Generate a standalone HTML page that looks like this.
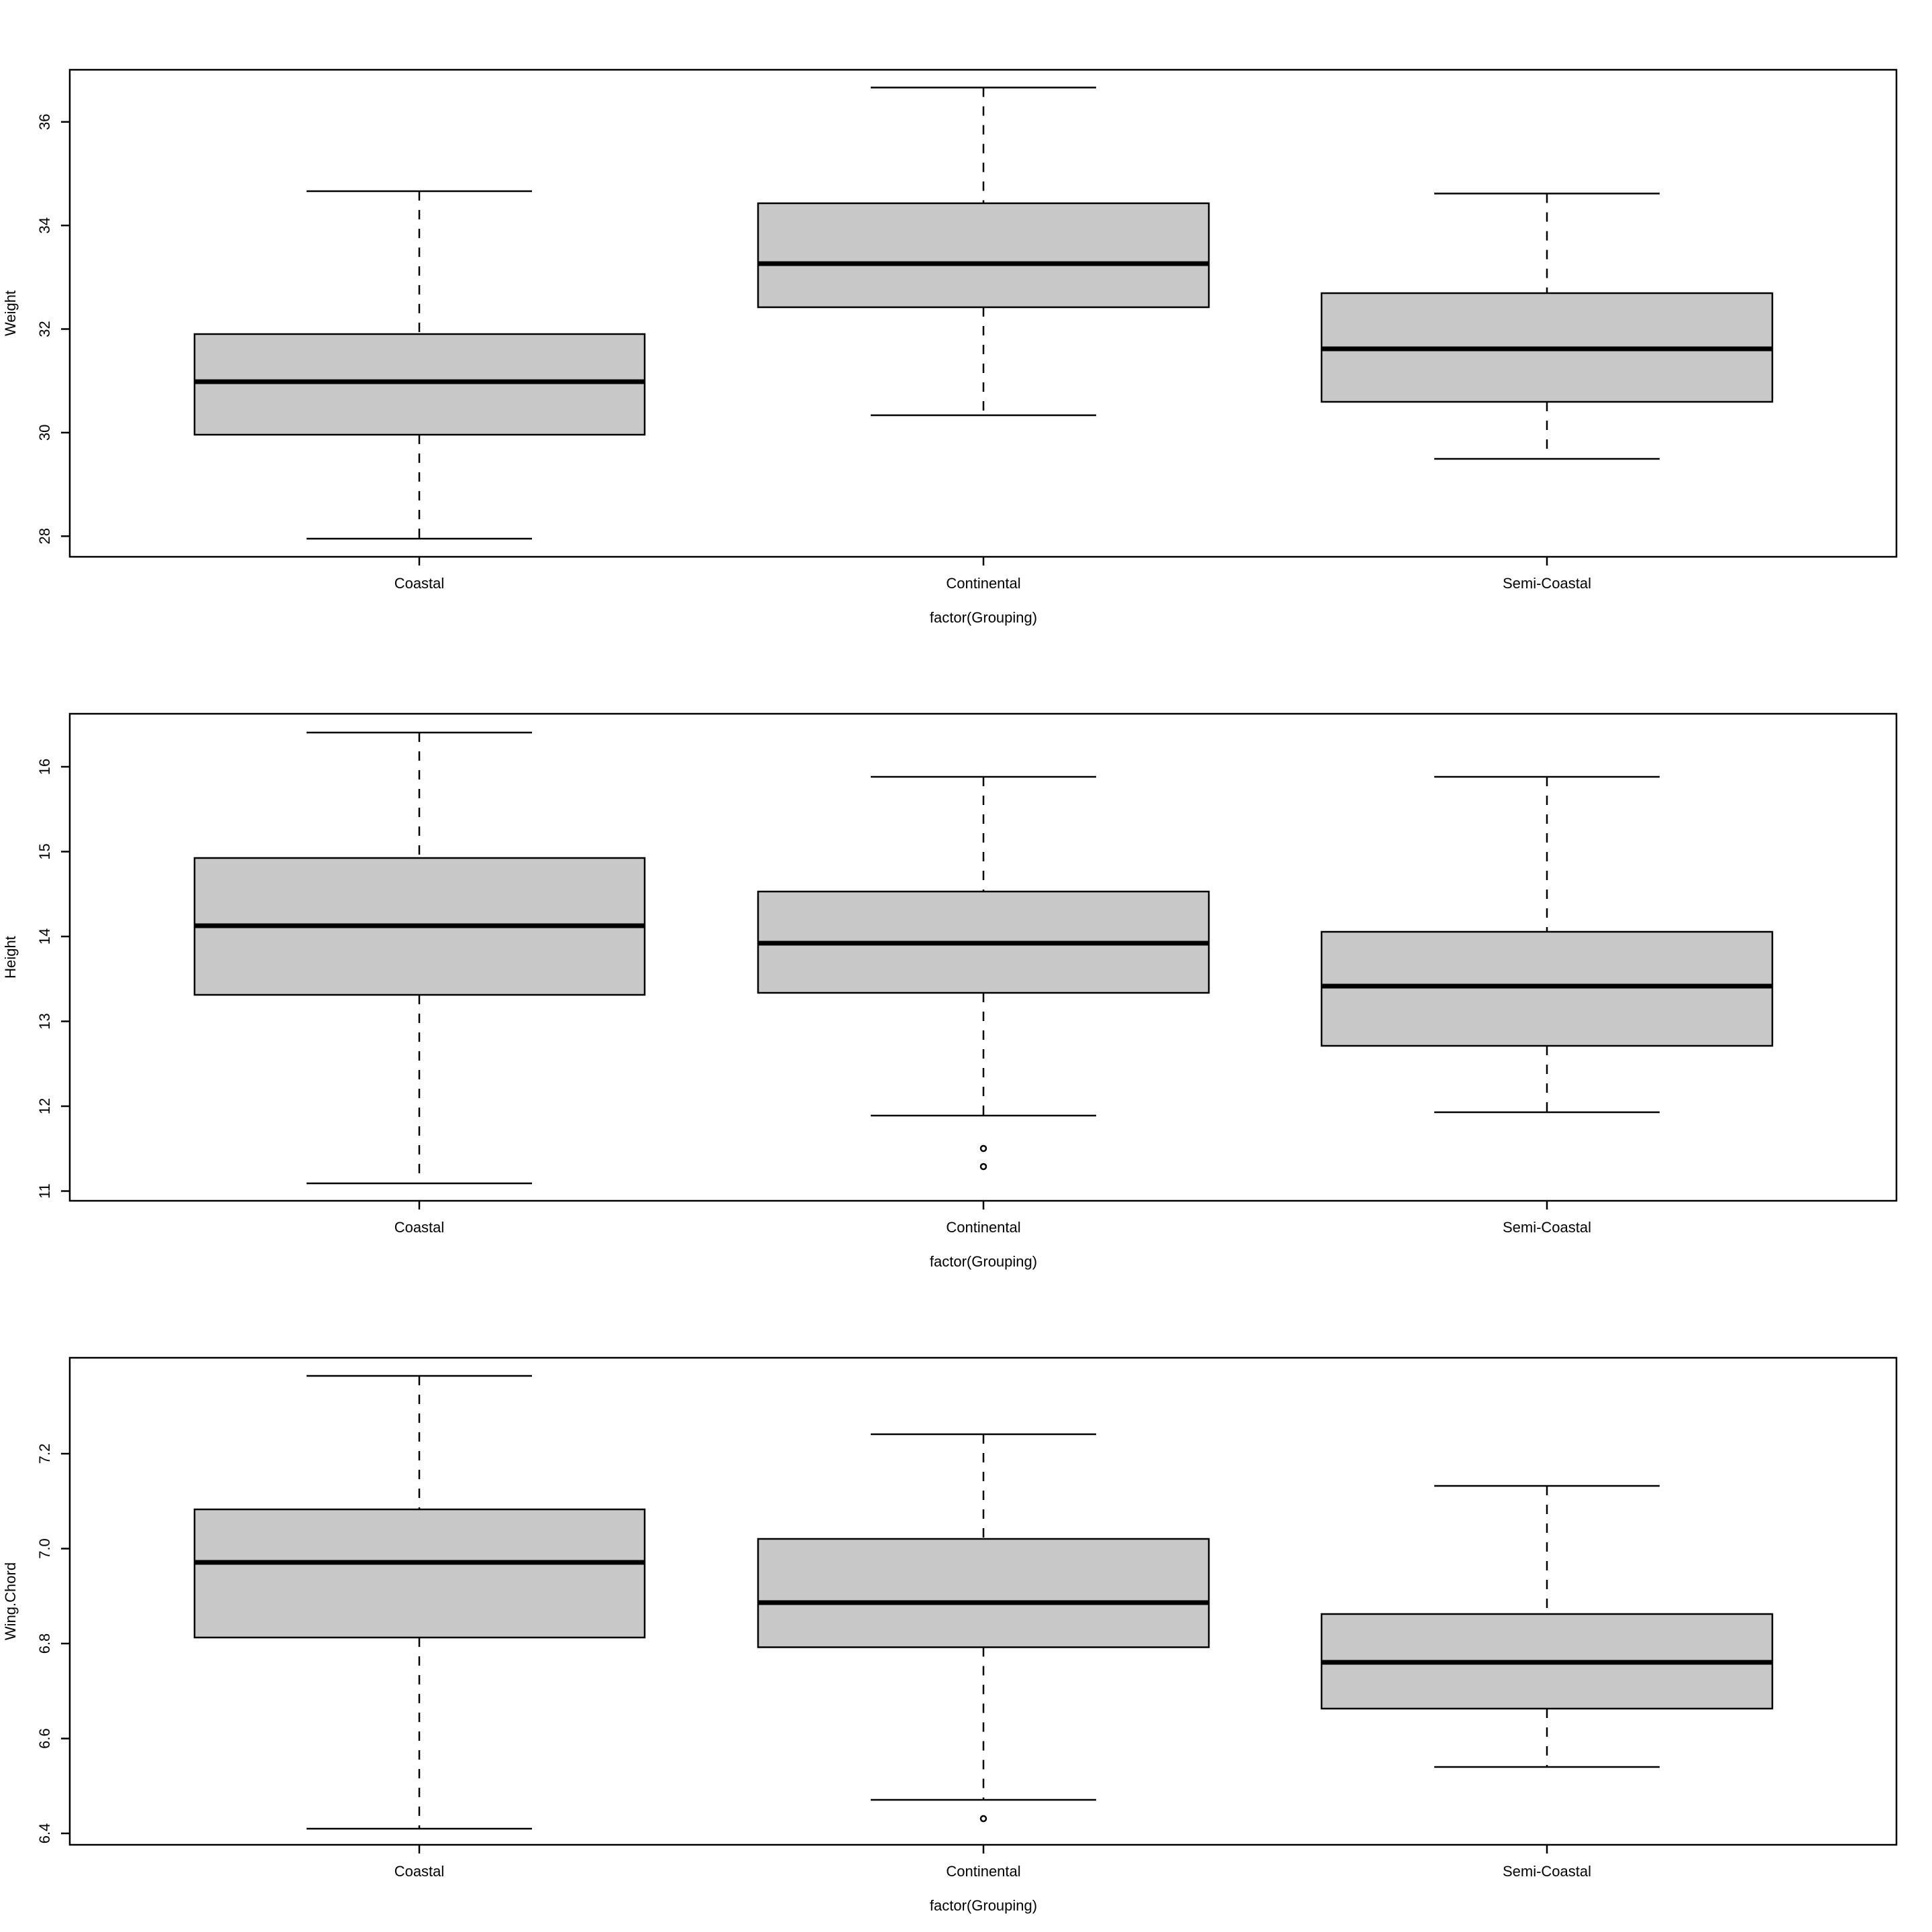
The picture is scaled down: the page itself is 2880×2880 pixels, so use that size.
<!DOCTYPE html>
<html><head><meta charset="utf-8"><style>html,body{margin:0;padding:0;background:#fff}svg{display:block}</style></head>
<body>
<svg xmlns="http://www.w3.org/2000/svg" width="2880" height="2880" viewBox="0 0 2880 2880" font-family="Liberation Sans, Arial, sans-serif" font-size="22">
<rect width="2880" height="2880" fill="#fff"/>
<g stroke="#000" stroke-width="2.5" fill="none">
<!-- PLOT 1 -->
<rect x="104" y="104" width="2723" height="726"/>
<!-- Coastal -->
<line x1="625" y1="285" x2="625" y2="498" stroke-dasharray="14,14"/>
<line x1="625" y1="648" x2="625" y2="803" stroke-dasharray="14,14"/>
<line x1="457" y1="285" x2="793" y2="285"/><line x1="457" y1="803" x2="793" y2="803"/>
<rect x="290" y="498" width="671" height="150" fill="#c8c8c8"/>
<line x1="290" y1="569" x2="961" y2="569" stroke-width="7"/>
<!-- Continental -->
<line x1="1466" y1="130.5" x2="1466" y2="303" stroke-dasharray="14,14"/>
<line x1="1466" y1="458" x2="1466" y2="619" stroke-dasharray="14,14"/>
<line x1="1298" y1="130.5" x2="1634" y2="130.5"/><line x1="1298" y1="619" x2="1634" y2="619"/>
<rect x="1130" y="303" width="672" height="155" fill="#c8c8c8"/>
<line x1="1130" y1="393" x2="1802" y2="393" stroke-width="7"/>
<!-- Semi -->
<line x1="2306" y1="288.5" x2="2306" y2="437" stroke-dasharray="14,14"/>
<line x1="2306" y1="599" x2="2306" y2="684" stroke-dasharray="14,14"/>
<line x1="2138" y1="288.5" x2="2474" y2="288.5"/><line x1="2138" y1="684" x2="2474" y2="684"/>
<rect x="1970" y="437" width="672" height="162" fill="#c8c8c8"/>
<line x1="1970" y1="520" x2="2642" y2="520" stroke-width="7"/>
<!-- ticks -->
<line x1="91" y1="181.7" x2="104" y2="181.7"/><line x1="91" y1="336.1" x2="104" y2="336.1"/><line x1="91" y1="490.5" x2="104" y2="490.5"/><line x1="91" y1="644.9" x2="104" y2="644.9"/><line x1="91" y1="799.3" x2="104" y2="799.3"/>
<line x1="625" y1="830" x2="625" y2="843"/><line x1="1466" y1="830" x2="1466" y2="843"/><line x1="2306" y1="830" x2="2306" y2="843"/>

<!-- PLOT 2 -->
<rect x="104" y="1064" width="2723" height="726"/>
<line x1="625" y1="1092" x2="625" y2="1279" stroke-dasharray="14,14"/>
<line x1="625" y1="1483" x2="625" y2="1764" stroke-dasharray="14,14"/>
<line x1="457" y1="1092" x2="793" y2="1092"/><line x1="457" y1="1764" x2="793" y2="1764"/>
<rect x="290" y="1279" width="671" height="204" fill="#c8c8c8"/>
<line x1="290" y1="1380" x2="961" y2="1380" stroke-width="7"/>
<line x1="1466" y1="1158" x2="1466" y2="1329" stroke-dasharray="14,14"/>
<line x1="1466" y1="1480" x2="1466" y2="1663" stroke-dasharray="14,14"/>
<line x1="1298" y1="1158" x2="1634" y2="1158"/><line x1="1298" y1="1663" x2="1634" y2="1663"/>
<rect x="1130" y="1329" width="672" height="151" fill="#c8c8c8"/>
<line x1="1130" y1="1406" x2="1802" y2="1406" stroke-width="7"/>
<circle cx="1466" cy="1712" r="4"/><circle cx="1466" cy="1739" r="4"/>
<line x1="2306" y1="1158" x2="2306" y2="1389" stroke-dasharray="14,14"/>
<line x1="2306" y1="1559" x2="2306" y2="1658" stroke-dasharray="14,14"/>
<line x1="2138" y1="1158" x2="2474" y2="1158"/><line x1="2138" y1="1658" x2="2474" y2="1658"/>
<rect x="1970" y="1389" width="672" height="170" fill="#c8c8c8"/>
<line x1="1970" y1="1470" x2="2642" y2="1470" stroke-width="7"/>
<line x1="91" y1="1143" x2="104" y2="1143"/><line x1="91" y1="1269.5" x2="104" y2="1269.5"/><line x1="91" y1="1396" x2="104" y2="1396"/><line x1="91" y1="1522.5" x2="104" y2="1522.5"/><line x1="91" y1="1649" x2="104" y2="1649"/><line x1="91" y1="1775.5" x2="104" y2="1775.5"/>
<line x1="625" y1="1790" x2="625" y2="1803"/><line x1="1466" y1="1790" x2="1466" y2="1803"/><line x1="2306" y1="1790" x2="2306" y2="1803"/>

<!-- PLOT 3 -->
<rect x="104" y="2024" width="2723" height="726"/>
<line x1="625" y1="2051" x2="625" y2="2250" stroke-dasharray="14,14"/>
<line x1="625" y1="2441" x2="625" y2="2726" stroke-dasharray="14,14"/>
<line x1="457" y1="2051" x2="793" y2="2051"/><line x1="457" y1="2726" x2="793" y2="2726"/>
<rect x="290" y="2250" width="671" height="191" fill="#c8c8c8"/>
<line x1="290" y1="2329" x2="961" y2="2329" stroke-width="7"/>
<line x1="1466" y1="2138" x2="1466" y2="2294" stroke-dasharray="14,14"/>
<line x1="1466" y1="2455.5" x2="1466" y2="2683" stroke-dasharray="14,14"/>
<line x1="1298" y1="2138" x2="1634" y2="2138"/><line x1="1298" y1="2683" x2="1634" y2="2683"/>
<rect x="1130" y="2294" width="672" height="161.5" fill="#c8c8c8"/>
<line x1="1130" y1="2389" x2="1802" y2="2389" stroke-width="7"/>
<circle cx="1466" cy="2711" r="4"/>
<line x1="2306" y1="2215" x2="2306" y2="2406" stroke-dasharray="14,14"/>
<line x1="2306" y1="2547" x2="2306" y2="2634" stroke-dasharray="14,14"/>
<line x1="2138" y1="2215" x2="2474" y2="2215"/><line x1="2138" y1="2634" x2="2474" y2="2634"/>
<rect x="1970" y="2406" width="672" height="141" fill="#c8c8c8"/>
<line x1="1970" y1="2478" x2="2642" y2="2478" stroke-width="7"/>
<line x1="91" y1="2167" x2="104" y2="2167"/><line x1="91" y1="2308.5" x2="104" y2="2308.5"/><line x1="91" y1="2450" x2="104" y2="2450"/><line x1="91" y1="2591.6" x2="104" y2="2591.6"/><line x1="91" y1="2733" x2="104" y2="2733"/>
<line x1="625" y1="2750" x2="625" y2="2763"/><line x1="1466" y1="2750" x2="1466" y2="2763"/><line x1="2306" y1="2750" x2="2306" y2="2763"/>
</g>

<g fill="#000" text-anchor="middle">
<!-- plot1 labels -->
<text x="625" y="877">Coastal</text><text x="1466" y="877">Continental</text><text x="2306" y="877">Semi-Coastal</text>
<text x="1466" y="928">factor(Grouping)</text>
<text transform="translate(74,181.7) rotate(-90)">36</text>
<text transform="translate(74,336.1) rotate(-90)">34</text>
<text transform="translate(74,490.5) rotate(-90)">32</text>
<text transform="translate(74,644.9) rotate(-90)">30</text>
<text transform="translate(74,799.3) rotate(-90)">28</text>
<text transform="translate(23,467) rotate(-90)">Weight</text>
<!-- plot2 -->
<text x="625" y="1837">Coastal</text><text x="1466" y="1837">Continental</text><text x="2306" y="1837">Semi-Coastal</text>
<text x="1466" y="1888">factor(Grouping)</text>
<text transform="translate(74,1143) rotate(-90)">16</text>
<text transform="translate(74,1269.5) rotate(-90)">15</text>
<text transform="translate(74,1396) rotate(-90)">14</text>
<text transform="translate(74,1522.5) rotate(-90)">13</text>
<text transform="translate(74,1649) rotate(-90)">12</text>
<text transform="translate(74,1775.5) rotate(-90)">11</text>
<text transform="translate(23,1427) rotate(-90)">Height</text>
<!-- plot3 -->
<text x="625" y="2797">Coastal</text><text x="1466" y="2797">Continental</text><text x="2306" y="2797">Semi-Coastal</text>
<text x="1466" y="2848">factor(Grouping)</text>
<text transform="translate(74,2167) rotate(-90)">7.2</text>
<text transform="translate(74,2308.5) rotate(-90)">7.0</text>
<text transform="translate(74,2450) rotate(-90)">6.8</text>
<text transform="translate(74,2591.6) rotate(-90)">6.6</text>
<text transform="translate(74,2733) rotate(-90)">6.4</text>
<text transform="translate(23,2387) rotate(-90)">Wing.Chord</text>
</g>
</svg>
</body></html>
